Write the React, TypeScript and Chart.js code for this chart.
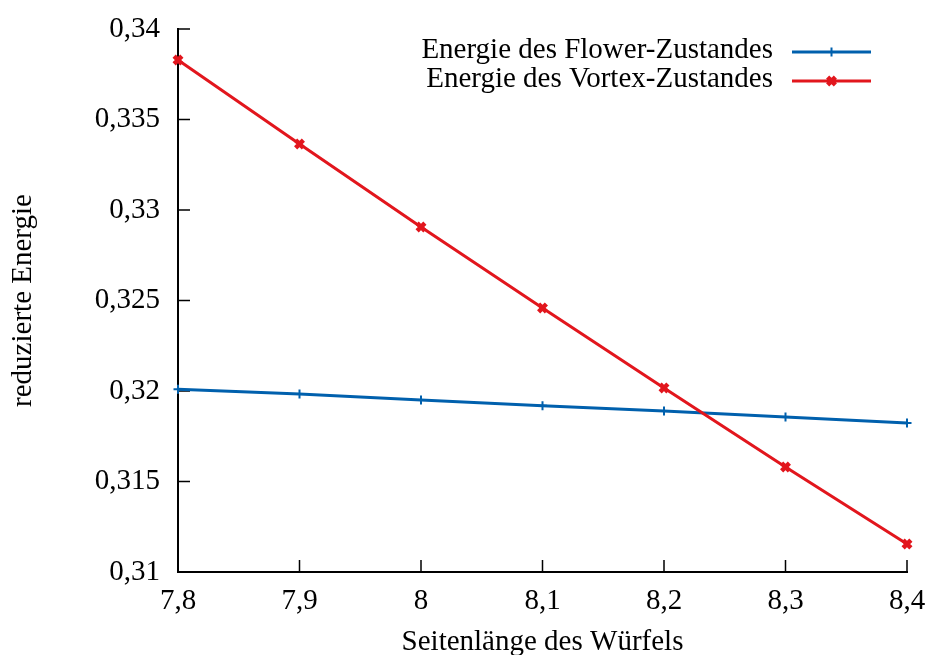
import React, { useEffect, useRef } from 'react';
import { Chart, registerables } from 'chart.js';

Chart.register(...registerables);

const sideLengths = [7.8, 7.9, 8.0, 8.1, 8.2, 8.3, 8.4];
const flowerEnergy = [0.3201, 0.31983, 0.3195, 0.31918, 0.3189, 0.31856, 0.31823];
const vortexEnergy = [0.33829, 0.33365, 0.32906, 0.32459, 0.32017, 0.3158, 0.31155];
const xTicks = [7.8, 7.9, 8.0, 8.1, 8.2, 8.3, 8.4];
const yTicks = [0.31, 0.315, 0.32, 0.325, 0.33, 0.335, 0.34];
const seriesLabels = ['Energie des Flower-Zustandes', 'Energie des Vortex-Zustandes'];
const xTitle = 'Seitenlänge des Würfels';
const yTitle = 'reduzierte Energie';

const FONT = "'Liberation Serif', 'DejaVu Serif', serif";
const BLUE = '#0060ad';
const RED = '#e2161d';

const fmt = (v: number) => String(Number(v.toFixed(3))).replace('.', ',');

function drawMarker(ctx: CanvasRenderingContext2D, style: string, x: number, y: number, r: number) {
  ctx.beginPath();
  if (style === 'cross') {
    ctx.moveTo(x - r, y); ctx.lineTo(x + r, y);
    ctx.moveTo(x, y - r); ctx.lineTo(x, y + r);
  } else {
    const d = r * Math.SQRT1_2;
    ctx.moveTo(x - d, y - d); ctx.lineTo(x + d, y + d);
    ctx.moveTo(x - d, y + d); ctx.lineTo(x + d, y - d);
  }
  ctx.stroke();
}

const decorPlugin = {
  id: 'decor',
  beforeDatasetsDraw(chart: any) {
    const { ctx, chartArea } = chart;
    const xs = chart.scales.x;
    const ys = chart.scales.y;
    ctx.save();
    ctx.strokeStyle = '#000';
    ctx.lineWidth = 1.5;
    ctx.beginPath();
    xs.ticks.forEach((t: any) => {
      const px = xs.getPixelForValue(t.value);
      ctx.moveTo(px, chartArea.bottom);
      ctx.lineTo(px, chartArea.bottom - 12);
    });
    ys.ticks.forEach((t: any) => {
      const py = ys.getPixelForValue(t.value);
      ctx.moveTo(chartArea.left, py);
      ctx.lineTo(chartArea.left + 12, py);
    });
    ctx.stroke();
    ctx.restore();
  },
  afterDraw(chart: any) {
    const { ctx, chartArea } = chart;
    ctx.save();
    ctx.font = `29px ${FONT}`;
    ctx.textAlign = 'right';
    ctx.textBaseline = 'middle';
    chart.data.datasets.forEach((ds: any, i: number) => {
      const y = chartArea.top + 23 + i * 29;
      ctx.fillStyle = '#000';
      ctx.fillText(ds.label, chartArea.right - 134, y - 2);
      const x0 = chartArea.right - 115;
      const x1 = chartArea.right - 36;
      ctx.strokeStyle = ds.borderColor;
      ctx.lineWidth = ds.borderWidth;
      ctx.beginPath();
      ctx.moveTo(x0, y);
      ctx.lineTo(x1, y);
      ctx.stroke();
      ctx.lineWidth = ds.pointBorderWidth;
      drawMarker(ctx, ds.pointStyle, (x0 + x1) / 2, y, ds.pointRadius);
    });
    ctx.restore();
  },
};

export default function App() {
  const ref = useRef<HTMLCanvasElement>(null);
  useEffect(() => {
    document.body.style.margin = '0';
    Chart.defaults.font.family = FONT;
    Chart.defaults.color = '#000';
    const chart = new Chart(ref.current!, {
      type: 'line',
      data: {
        datasets: [
          {
            label: seriesLabels[0],
            data: sideLengths.map((x, i) => ({ x, y: flowerEnergy[i] })),
            borderColor: BLUE,
            backgroundColor: BLUE,
            borderWidth: 3,
            pointStyle: 'cross',
            pointRadius: 4.5,
            pointBorderWidth: 2,
            pointBorderColor: BLUE,
            order: 1,
            clip: false,
          } as any,
          {
            label: seriesLabels[1],
            data: sideLengths.map((x, i) => ({ x, y: vortexEnergy[i] })),
            borderColor: RED,
            backgroundColor: RED,
            borderWidth: 3,
            pointStyle: 'crossRot',
            pointRadius: 5.5,
            pointBorderWidth: 4.5,
            pointBorderColor: RED,
            order: 0,
            clip: false,
          } as any,
        ],
      },
      options: {
        animation: false,
        responsive: false,
        devicePixelRatio: 1,
        layout: { padding: { top: 29, right: 23, left: 0, bottom: 0 } },
        plugins: { legend: { display: false }, tooltip: { enabled: false } },
        elements: { line: { tension: 0 } },
        scales: {
          x: {
            type: 'linear',
            min: xTicks[0],
            max: xTicks[xTicks.length - 1],
            afterBuildTicks: (s: any) => { s.ticks = xTicks.map((v) => ({ value: v })); },
            afterFit: (s: any) => { s.height = 83; s.paddingLeft = 0; s.paddingRight = 0; },
            grid: { display: false, drawTicks: false },
            border: { display: true, color: '#000', width: 2 },
            ticks: { padding: 12, font: { size: 29 }, color: '#000', callback: (v: any) => fmt(Number(v)), maxRotation: 0, autoSkip: false },
            title: { display: true, text: xTitle, font: { size: 29, lineHeight: 0.9 }, color: '#000', padding: { top: 0, bottom: 0 } },
          },
          y: {
            type: 'linear',
            min: yTicks[0],
            max: yTicks[yTicks.length - 1],
            afterBuildTicks: (s: any) => { s.ticks = yTicks.map((v) => ({ value: v })); },
            afterFit: (s: any) => { s.width = 178; s.paddingTop = 0; s.paddingBottom = 0; },
            grid: { display: false, drawTicks: false },
            border: { display: true, color: '#000', width: 2 },
            ticks: { padding: 18, font: { size: 29 }, color: '#000', callback: (v: any) => fmt(Number(v)), autoSkip: false },
            title: { display: true, text: yTitle, font: { size: 29, lineHeight: 0.9 }, color: '#000', padding: { top: 10, bottom: 0 } },
          },
        },
      },
      plugins: [decorPlugin],
    });
    return () => chart.destroy();
  }, []);
  return (
    <div style={{ position: 'absolute', left: 0, top: 0, width: 930, height: 655 }}>
      <canvas ref={ref} width={930} height={655} />
    </div>
  );
}
